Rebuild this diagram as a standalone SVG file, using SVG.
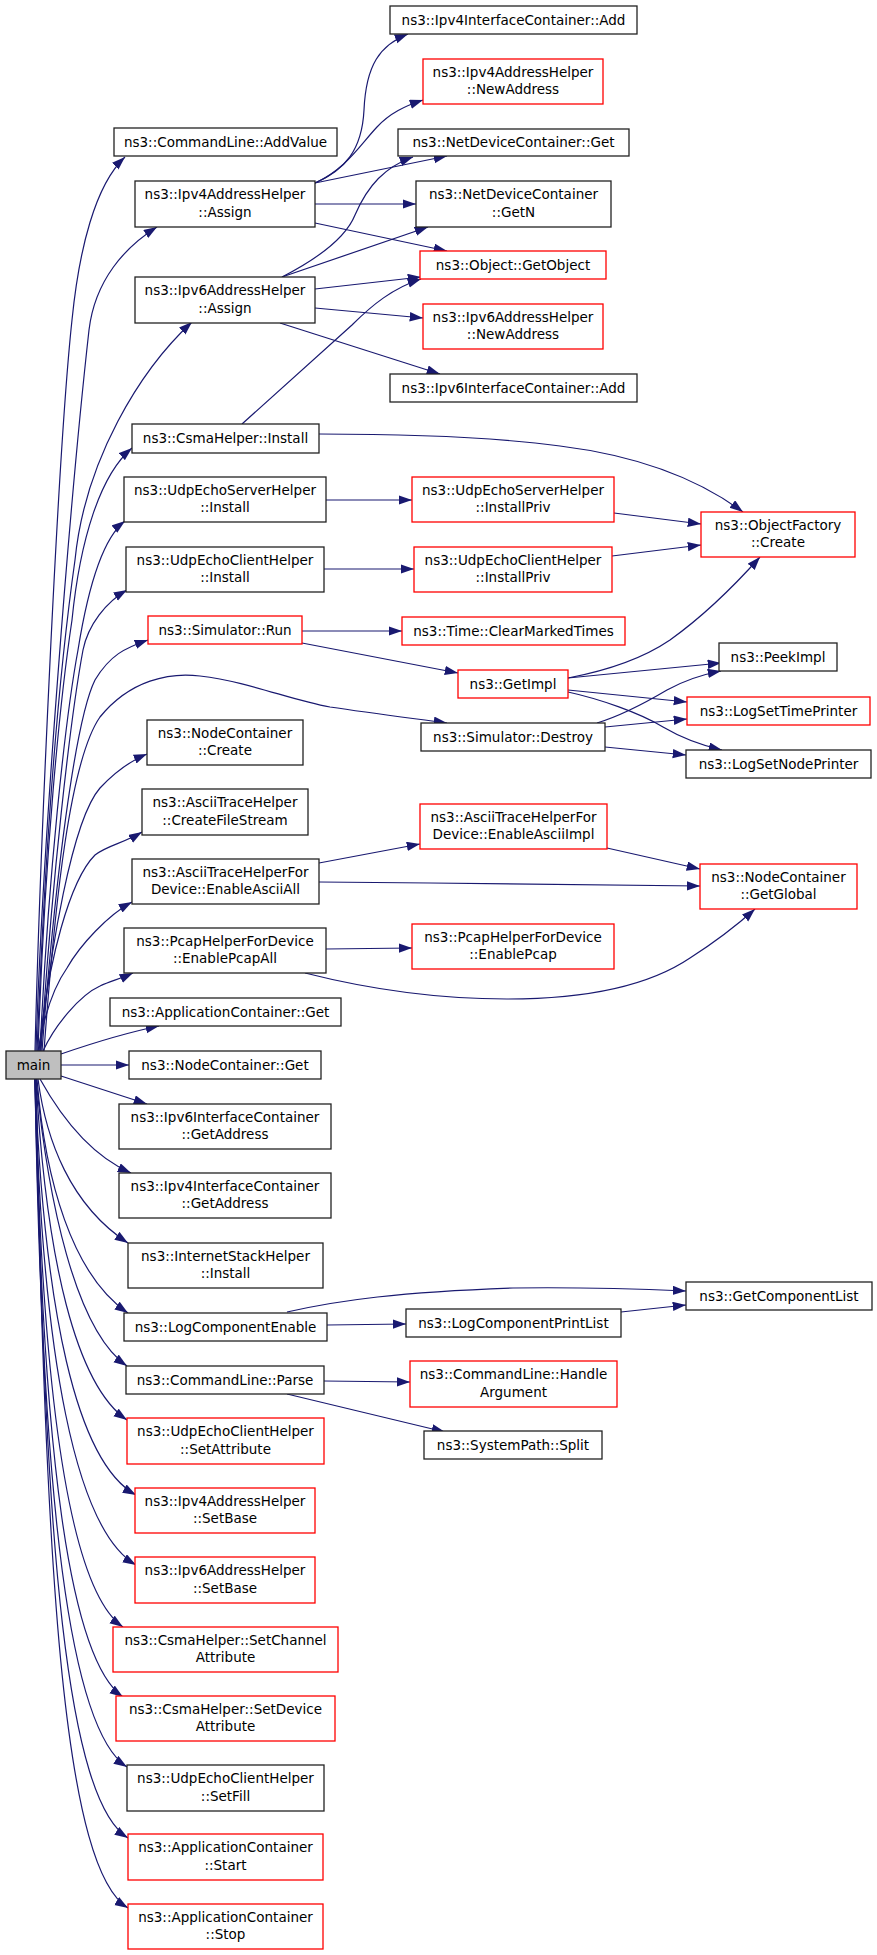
<svg xmlns="http://www.w3.org/2000/svg" width="877" height="1955" viewBox="0 0 877 1955">
<style>
.node rect{fill:#fff;stroke:#222;stroke-width:1.3}
.node.red rect{stroke:#f00}
.node.root rect{fill:#bfbfbf}
text{font-family:"DejaVu Sans","Liberation Sans",sans-serif;font-size:13.5px;text-anchor:middle;fill:#000}
#edges path{fill:none;stroke:#191970;stroke-width:1.2;marker-end:url(#arr)}
</style>
<defs>
<marker id="arr" markerUnits="userSpaceOnUse" markerWidth="14" markerHeight="10" refX="13.3" refY="4.7" orient="auto">
<path d="M0,0 L13.3,4.7 L0,9.4 z" fill="#191970"/>
</marker>
</defs>
<rect width="877" height="1955" fill="#fff"/>
<g id="edges">
<path d="M35,1051 C40,850 58,450 72,320 C79,250 95,185 125,157"/>
<path d="M36,1051 C42,850 70,500 89,330 C95,280 125,247 157,227"/>
<path d="M37,1051 C45,850 58,680 75,560 C85,460 140,370 192,322"/>
<path d="M38,1051 C45,850 60,700 72,620 C80,540 100,475 132,448"/>
<path d="M40,1051 C48,880 65,720 78,650 C86,600 100,540 125,521"/>
<path d="M41,1051 C52,880 70,720 83,650 C88,625 106,602 127,590"/>
<path d="M42,1051 C55,880 75,720 95,680 C110,655 125,648 148,640"/>
<path d="M44,1051 C55,900 70,760 100,717 C130,680 170,672 200,676 C250,682 290,700 330,707 C370,713 410,718 447,723"/>
<path d="M40,1051 C50,950 72,820 100,788 C115,772 130,761 147,754"/>
<path d="M39,1051 C48,960 70,880 95,855 C108,845 122,844 142,832"/>
<path d="M38,1051 C45,1010 55,985 67,968 C80,945 108,915 132,902"/>
<path d="M43,1051 C55,1025 80,995 100,986 C110,981 120,979 133,973"/>
<path d="M61,1054 C90,1044 125,1033 159,1026"/>
<path d="M61,1065 L129,1065"/>
<path d="M61,1076 L147,1104"/>
<path d="M40,1079 C60,1115 90,1155 131,1173"/>
<path d="M38,1079 C46,1140 70,1205 128,1243"/>
<path d="M37,1079 C45,1180 72,1275 128,1313"/>
<path d="M36,1079 C48,1200 75,1330 127,1366"/>
<path d="M36,1079 C46,1260 76,1385 127,1420"/>
<path d="M35,1079 C44,1310 76,1462 136,1495"/>
<path d="M35,1079 C42,1360 76,1530 136,1565"/>
<path d="M35,1079 C42,1410 72,1592 123,1627"/>
<path d="M35,1079 C42,1460 70,1660 123,1697"/>
<path d="M35,1079 C42,1510 70,1730 127,1767"/>
<path d="M36,1079 C44,1560 68,1800 128,1838"/>
<path d="M36,1079 C45,1600 66,1870 128,1908"/>
<path d="M315,183 C345,170 362,150 364,110 C366,65 380,45 408,34"/>
<path d="M315,183 C345,170 360,145 377,127 C390,113 405,106 423,100"/>
<path d="M315,183 L447,156"/>
<path d="M315,204 L416,204"/>
<path d="M315,223 L447,251"/>
<path d="M282,277 C315,260 345,240 355,215 C368,185 385,167 413,157"/>
<path d="M282,277 L428,227"/>
<path d="M315,289 L421,277"/>
<path d="M315,308 L423,318"/>
<path d="M280,323 L440,374"/>
<path d="M242,424 L352,325 C372,305 393,288 421,279"/>
<path d="M319,434 C420,434 500,438 560,446 C640,456 700,480 743,512"/>
<path d="M326,500 L412,500"/>
<path d="M324,569 L414,569"/>
<path d="M614,513 L701,524"/>
<path d="M612,556 L701,545"/>
<path d="M302,631 L402,631"/>
<path d="M302,643 L458,673"/>
<path d="M568,678 C610,670 645,657 670,640 C705,615 735,585 760,557"/>
<path d="M568,678 L721,663"/>
<path d="M568,690 L687,702"/>
<path d="M568,692 C600,699 640,713 663,727 C680,737 700,745 722,750"/>
<path d="M597,723 C620,716 645,703 667,690 C685,680 700,675 721,671"/>
<path d="M605,727 L687,719"/>
<path d="M605,747 L686,755"/>
<path d="M319,863 L420,844"/>
<path d="M319,882 C450,883 600,885 700,886"/>
<path d="M607,848 L700,869"/>
<path d="M326,949 L412,948"/>
<path d="M305,973 C380,992 450,999 507,999 C590,999 650,985 690,958 C715,942 735,927 755,909"/>
<path d="M287,1312 C340,1300 400,1292 513,1288 C580,1287 640,1289 686,1291"/>
<path d="M327,1325 L406,1324"/>
<path d="M621,1312 L686,1305"/>
<path d="M324,1381 L410,1382"/>
<path d="M287,1394 L445,1432"/>
</g>
<g id="main" class="node root"><rect x="6" y="1051" width="55" height="28"/><text x="33.5" y="1069.5">main</text></g>
<g id="addvalue" class="node"><rect x="114" y="128" width="223" height="28"/><text x="225.5" y="146.5">ns3::CommandLine::AddValue</text></g>
<g id="ipv4assign" class="node"><rect x="135" y="181" width="180" height="46"/><text x="225" y="199">ns3::Ipv4AddressHelper</text><text x="225" y="216.5">::Assign</text></g>
<g id="ipv6assign" class="node"><rect x="135" y="277" width="180" height="46"/><text x="225" y="295">ns3::Ipv6AddressHelper</text><text x="225" y="312.5">::Assign</text></g>
<g id="ipv4icadd" class="node"><rect x="390" y="6" width="247" height="28"/><text x="513.5" y="24.5">ns3::Ipv4InterfaceContainer::Add</text></g>
<g id="ipv4newaddr" class="node red"><rect x="423" y="59" width="180" height="45"/><text x="513" y="76.5">ns3::Ipv4AddressHelper</text><text x="513" y="94">::NewAddress</text></g>
<g id="ndcget" class="node"><rect x="398" y="129" width="231" height="27"/><text x="513.5" y="147">ns3::NetDeviceContainer::Get</text></g>
<g id="ndcgetn" class="node"><rect x="416" y="181" width="195" height="46"/><text x="513.5" y="199">ns3::NetDeviceContainer</text><text x="513.5" y="216.5">::GetN</text></g>
<g id="getobject" class="node red"><rect x="420" y="251" width="186" height="28"/><text x="513" y="269.5">ns3::Object::GetObject</text></g>
<g id="ipv6newaddr" class="node red"><rect x="423" y="304" width="180" height="45"/><text x="513" y="321.5">ns3::Ipv6AddressHelper</text><text x="513" y="339">::NewAddress</text></g>
<g id="ipv6icadd" class="node"><rect x="390" y="374" width="247" height="28"/><text x="513.5" y="392.5">ns3::Ipv6InterfaceContainer::Add</text></g>
<g id="csmainstall" class="node"><rect x="132" y="424" width="187" height="29"/><text x="225.5" y="443">ns3::CsmaHelper::Install</text></g>
<g id="udpserverinstall" class="node"><rect x="124" y="477" width="202" height="45"/><text x="225" y="494.5">ns3::UdpEchoServerHelper</text><text x="225" y="512">::Install</text></g>
<g id="udpclientinstall" class="node"><rect x="126" y="547" width="198" height="45"/><text x="225" y="564.5">ns3::UdpEchoClientHelper</text><text x="225" y="582">::Install</text></g>
<g id="simrun" class="node red"><rect x="148" y="616" width="154" height="28"/><text x="225" y="634.5">ns3::Simulator::Run</text></g>
<g id="serverpriv" class="node red"><rect x="412" y="477" width="202" height="45"/><text x="513" y="494.5">ns3::UdpEchoServerHelper</text><text x="513" y="512">::InstallPriv</text></g>
<g id="clientpriv" class="node red"><rect x="414" y="547" width="198" height="45"/><text x="513" y="564.5">ns3::UdpEchoClientHelper</text><text x="513" y="582">::InstallPriv</text></g>
<g id="objfactory" class="node red"><rect x="701" y="512" width="154" height="45"/><text x="778" y="529.5">ns3::ObjectFactory</text><text x="778" y="547">::Create</text></g>
<g id="clearmarked" class="node red"><rect x="402" y="617" width="223" height="28"/><text x="513.5" y="635.5">ns3::Time::ClearMarkedTimes</text></g>
<g id="peekimpl" class="node"><rect x="719" y="643" width="118" height="28"/><text x="778" y="661.5">ns3::PeekImpl</text></g>
<g id="getimpl" class="node red"><rect x="458" y="670" width="110" height="28"/><text x="513" y="688.5">ns3::GetImpl</text></g>
<g id="logsettime" class="node red"><rect x="687" y="697" width="183" height="28"/><text x="778.5" y="715.5">ns3::LogSetTimePrinter</text></g>
<g id="destroy" class="node"><rect x="421" y="723" width="184" height="28"/><text x="513" y="741.5">ns3::Simulator::Destroy</text></g>
<g id="logsetnode" class="node"><rect x="686" y="750" width="185" height="28"/><text x="778.5" y="768.5">ns3::LogSetNodePrinter</text></g>
<g id="nccreate" class="node"><rect x="147" y="720" width="156" height="45"/><text x="225" y="737.5">ns3::NodeContainer</text><text x="225" y="755">::Create</text></g>
<g id="createfilestream" class="node"><rect x="142" y="789" width="166" height="46"/><text x="225" y="807">ns3::AsciiTraceHelper</text><text x="225" y="824.5">::CreateFileStream</text></g>
<g id="enableasciiall" class="node"><rect x="132" y="859" width="187" height="45"/><text x="225.5" y="876.5">ns3::AsciiTraceHelperFor</text><text x="225.5" y="894">Device::EnableAsciiAll</text></g>
<g id="enableasciiimpl" class="node red"><rect x="420" y="804" width="187" height="45"/><text x="513.5" y="821.5">ns3::AsciiTraceHelperFor</text><text x="513.5" y="839">Device::EnableAsciiImpl</text></g>
<g id="getglobal" class="node red"><rect x="700" y="864" width="157" height="45"/><text x="778.5" y="881.5">ns3::NodeContainer</text><text x="778.5" y="899">::GetGlobal</text></g>
<g id="enablepcapall" class="node"><rect x="124" y="928" width="202" height="45"/><text x="225" y="945.5">ns3::PcapHelperForDevice</text><text x="225" y="963">::EnablePcapAll</text></g>
<g id="enablepcap" class="node red"><rect x="412" y="924" width="202" height="45"/><text x="513" y="941.5">ns3::PcapHelperForDevice</text><text x="513" y="959">::EnablePcap</text></g>
<g id="appget" class="node"><rect x="110" y="998" width="231" height="28"/><text x="225.5" y="1016.5">ns3::ApplicationContainer::Get</text></g>
<g id="ncget" class="node"><rect x="129" y="1051" width="192" height="28"/><text x="225" y="1069.5">ns3::NodeContainer::Get</text></g>
<g id="ipv6getaddr" class="node"><rect x="119" y="1104" width="212" height="45"/><text x="225" y="1121.5">ns3::Ipv6InterfaceContainer</text><text x="225" y="1139">::GetAddress</text></g>
<g id="ipv4getaddr" class="node"><rect x="119" y="1173" width="212" height="45"/><text x="225" y="1190.5">ns3::Ipv4InterfaceContainer</text><text x="225" y="1208">::GetAddress</text></g>
<g id="internetstack" class="node"><rect x="128" y="1243" width="195" height="45"/><text x="225.5" y="1260.5">ns3::InternetStackHelper</text><text x="225.5" y="1278">::Install</text></g>
<g id="logcompenable" class="node"><rect x="124" y="1313" width="203" height="28"/><text x="225.5" y="1331.5">ns3::LogComponentEnable</text></g>
<g id="logcompprint" class="node"><rect x="406" y="1309" width="215" height="28"/><text x="513.5" y="1327.5">ns3::LogComponentPrintList</text></g>
<g id="getcomplist" class="node"><rect x="686" y="1282" width="186" height="28"/><text x="779" y="1300.5">ns3::GetComponentList</text></g>
<g id="parse" class="node"><rect x="126" y="1366" width="198" height="28"/><text x="225" y="1384.5">ns3::CommandLine::Parse</text></g>
<g id="handlearg" class="node red"><rect x="410" y="1361" width="207" height="46"/><text x="513.5" y="1379">ns3::CommandLine::Handle</text><text x="513.5" y="1396.5">Argument</text></g>
<g id="split" class="node"><rect x="424" y="1431" width="178" height="28"/><text x="513" y="1449.5">ns3::SystemPath::Split</text></g>
<g id="setattr" class="node red"><rect x="127" y="1418" width="197" height="46"/><text x="225.5" y="1436">ns3::UdpEchoClientHelper</text><text x="225.5" y="1453.5">::SetAttribute</text></g>
<g id="ipv4setbase" class="node red"><rect x="135" y="1488" width="180" height="45"/><text x="225" y="1505.5">ns3::Ipv4AddressHelper</text><text x="225" y="1523">::SetBase</text></g>
<g id="ipv6setbase" class="node red"><rect x="135" y="1557" width="180" height="46"/><text x="225" y="1575">ns3::Ipv6AddressHelper</text><text x="225" y="1592.5">::SetBase</text></g>
<g id="setchannel" class="node red"><rect x="113" y="1627" width="225" height="45"/><text x="225.5" y="1644.5">ns3::CsmaHelper::SetChannel</text><text x="225.5" y="1662">Attribute</text></g>
<g id="setdevice" class="node red"><rect x="116" y="1696" width="219" height="45"/><text x="225.5" y="1713.5">ns3::CsmaHelper::SetDevice</text><text x="225.5" y="1731">Attribute</text></g>
<g id="setfill" class="node"><rect x="127" y="1765" width="197" height="46"/><text x="225.5" y="1783">ns3::UdpEchoClientHelper</text><text x="225.5" y="1800.5">::SetFill</text></g>
<g id="appstart" class="node red"><rect x="128" y="1834" width="195" height="46"/><text x="225.5" y="1852">ns3::ApplicationContainer</text><text x="225.5" y="1869.5">::Start</text></g>
<g id="appstop" class="node red"><rect x="128" y="1904" width="195" height="45"/><text x="225.5" y="1921.5">ns3::ApplicationContainer</text><text x="225.5" y="1939">::Stop</text></g>
</svg>
